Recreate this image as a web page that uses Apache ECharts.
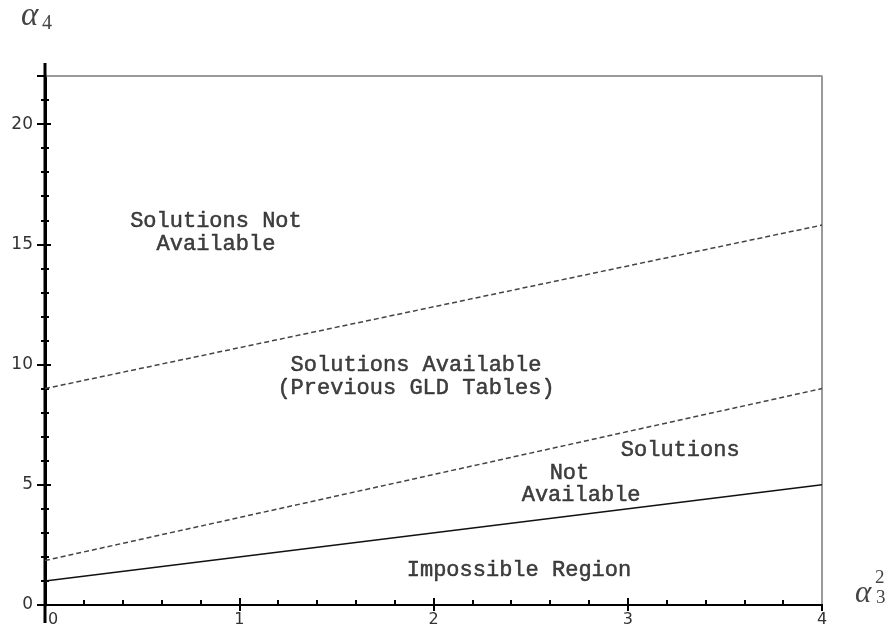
<!DOCTYPE html>
<html><head><meta charset="utf-8">
<script src="https://cdn.jsdelivr.net/npm/echarts@6/dist/echarts.min.js"></script>
<style>html,body{margin:0;padding:0;background:#fff}#c{width:891px;height:628px}</style>
</head><body><div id="c"></div>
<script>
const xLimits = [0, 4];
const yLimits = [0, 22];
const boundX = [0, 4];
const solidY = [1.0, 5.0];
const lowerDashY = [1.85, 9.0];
const upperDashY = [9.0, 15.8];
const boxX = [0, 4, 4];
const boxY = [22, 22, 0];
const yAxisExtX = [0, 0];
const yAxisExtY = [-0.75, 22.54];
const xAxisExtX = [-0.087, 4.09];
const xAxisExtY = [0, 0];
const noteText = ['Solutions Not\nAvailable', 'Solutions Available\n(Previous GLD Tables)', 'Solutions', 'Not', 'Available', 'Impossible Region'];
const noteX = [0.88, 1.91, 3.27, 2.70, 2.76, 2.44];
const noteY = [15.5, 9.5, 6.45, 5.5, 4.55, 1.44];

const zip = (a, b) => a.map((v, i) => [v, b[i]]);
const chart = echarts.init(document.getElementById('c'));
const labelFont = 'DejaVu Sans';
const yBase = {type: 'value', min: yLimits[0], max: yLimits[1], interval: 5, splitLine: {show: false}, position: 'left'};
const xBase = {type: 'value', min: xLimits[0], max: xLimits[1], interval: 1, splitLine: {show: false}, position: 'bottom'};
chart.setOption({
  animation: false,
  grid: {left: 45, right: 69, top: 76, bottom: 21, show: false},
  xAxis: [
    Object.assign({}, xBase, {
      axisLine: {show: true, lineStyle: {color: '#000', width: 2}},
      axisTick: {show: true, inside: false, length: 6, lineStyle: {color: '#000', width: 2}},
      minorTick: {show: false},
      axisLabel: {show: true, margin: 7, color: '#333', fontSize: 16, fontFamily: labelFont,
        formatter: v => v === 0 ? '{z|0}' : String(v),
        rich: {z: {padding: [0, 0, 0, 16], fontSize: 16, fontFamily: labelFont, color: '#333'}}}
    }),
    Object.assign({}, xBase, {
      axisLine: {show: false},
      axisTick: {show: true, inside: true, length: 7, lineStyle: {color: '#000', width: 2}},
      minorTick: {show: true, splitNumber: 5, length: 5, lineStyle: {color: '#000', width: 2}},
      axisLabel: {show: false}
    })
  ],
  yAxis: [
    Object.assign({}, yBase, {
      axisLine: {show: true, lineStyle: {color: '#000', width: 3}},
      axisTick: {show: true, inside: false, length: 8, lineStyle: {color: '#000', width: 2}},
      minorTick: {show: true, splitNumber: 5, length: 4, lineStyle: {color: '#000', width: 2}},
      axisLabel: {show: true, margin: 12, color: '#333', fontSize: 17, fontFamily: labelFont, showMaxLabel: false}
    }),
    Object.assign({}, yBase, {
      axisLine: {show: false},
      axisTick: {show: true, inside: true, length: 6, lineStyle: {color: '#000', width: 2}},
      minorTick: {show: true, splitNumber: 5, length: 4, lineStyle: {color: '#000', width: 2}},
      axisLabel: {show: false}
    })
  ],
  graphic: [
    {type: 'text', left: 21, top: 0, style: {text: 'α', font: 'italic 33px "Liberation Serif"', fill: '#444'}},
    {type: 'text', left: 42, top: 14, style: {text: '4', font: '20px "Liberation Serif"', fill: '#444'}},
    {type: 'text', left: 855, top: 578, style: {text: 'α', font: 'italic 31px "Liberation Serif"', fill: '#444'}},
    {type: 'text', left: 875, top: 569, style: {text: '2', font: '19px "Liberation Serif"', fill: '#444'}},
    {type: 'text', left: 876, top: 589, style: {text: '3', font: '19px "Liberation Serif"', fill: '#444'}}
  ],
  series: [
    {type: 'line', data: zip(boxX, boxY), symbol: 'none', clip: false, z: 1,
      lineStyle: {color: '#9a9a9a', width: 2}},
    {type: 'line', data: zip(yAxisExtX, yAxisExtY), symbol: 'none', clip: false, z: 3,
      lineStyle: {color: '#000', width: 3}},
    {type: 'line', data: zip(xAxisExtX, xAxisExtY), symbol: 'none', clip: false, z: 3,
      lineStyle: {color: '#000', width: 2}},
    {type: 'line', data: zip(boundX, solidY), symbol: 'none',
      lineStyle: {color: '#111', width: 1.5}},
    {type: 'line', data: zip(boundX, lowerDashY), symbol: 'none',
      lineStyle: {color: '#444', width: 1.5, type: [5, 3]}},
    {type: 'line', data: zip(boundX, upperDashY), symbol: 'none',
      lineStyle: {color: '#444', width: 1.5, type: [5, 3]}},
    {type: 'scatter', symbolSize: 0, silent: true,
      data: noteText.map((t, i) => ({value: [noteX[i], noteY[i]], name: t})),
      label: {show: true, position: 'inside', formatter: p => p.name, color: '#111',
        textBorderColor: '#111', textBorderWidth: 0.5,
        fontFamily: '"Liberation Mono"', fontSize: 22, lineHeight: 23, align: 'center', verticalAlign: 'middle'}}
  ]
});
</script></body></html>
